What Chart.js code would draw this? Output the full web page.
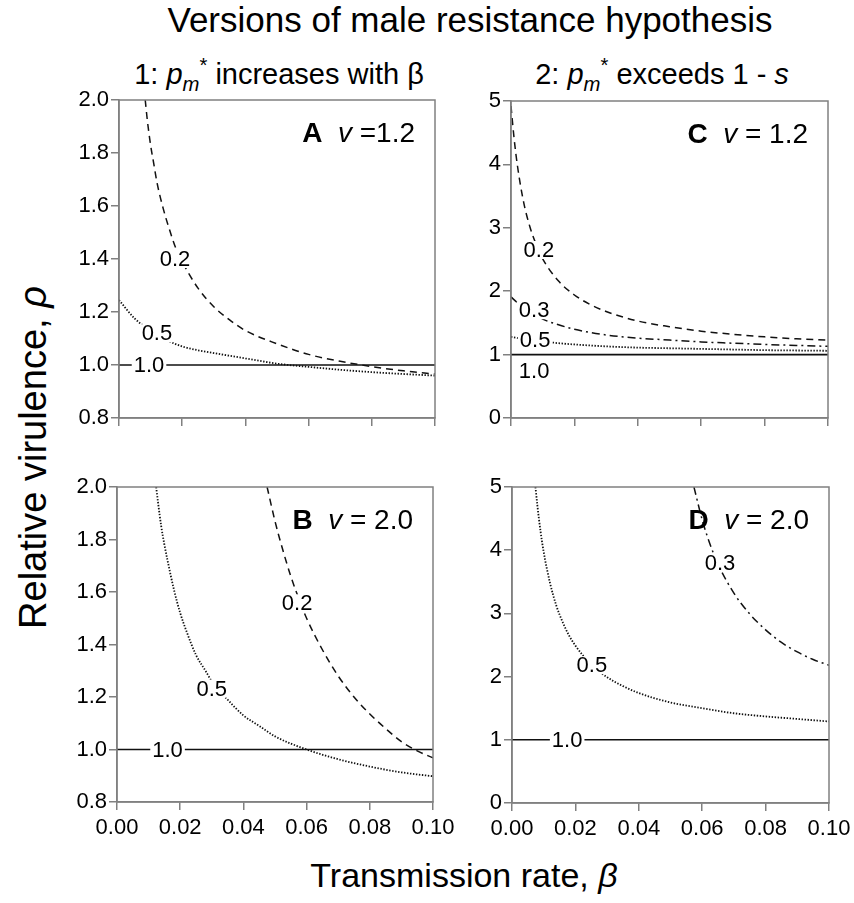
<!DOCTYPE html>
<html lang="en">
<head>
<meta charset="UTF-8">
<title>Versions of male resistance hypothesis</title>
<script src="https://cdn.jsdelivr.net/npm/chart.js"></script>
<style>
  body { margin: 0; background: #fff; font-family: "Liberation Sans", Arial, sans-serif; }
  #page { position: relative; width: 854px; height: 903px; overflow: hidden; }
  canvas { position: absolute; }
  .txt { position: absolute; white-space: nowrap; color: #000; line-height: 1; }
  .sub { font-size: 70%; position: relative; top: 0.35em; }
  .sup { font-size: 70%; position: relative; top: -0.6em; }
</style>
</head>
<body>
<div id="page">
  <div class="txt" style="left:470px; top:2px; font-size:35px; transform:translateX(-50%);">Versions of male resistance hypothesis</div>
  <div class="txt" style="left:279px; top:60px; font-size:29px; transform:translateX(-50%);">1: <i>p</i><i class="sub">m</i><span class="sup">*</span> increases with β</div>
  <div class="txt" style="left:662px; top:60px; font-size:29px; transform:translateX(-50%);">2: <i>p</i><i class="sub">m</i><span class="sup">*</span> exceeds 1 - <i>s</i></div>
  <div class="txt" style="left:464px; top:858px; font-size:34px; transform:translateX(-50%);">Transmission rate, <i>β</i></div>
  <div class="txt" style="left:-217px; top:438px; width:500px; height:39px; text-align:center; font-size:38px; transform:rotate(-90deg);">Relative virulence, <i>ρ</i></div>

  <canvas id="chartA"></canvas>
  <canvas id="chartB"></canvas>
  <canvas id="chartC"></canvas>
  <canvas id="chartD"></canvas>
</div>

<script>
// ticks
const xTicks = [0, 0.02, 0.04, 0.06, 0.08, 0.10];
const xTickLabels = ['0.00', '0.02', '0.04', '0.06', '0.08', '0.10'];
const yTicksLeft = [0.8, 1.0, 1.2, 1.4, 1.6, 1.8, 2.0];
const yTickLabelsLeft = ['0.8', '1.0', '1.2', '1.4', '1.6', '1.8', '2.0'];
const yTicksRight = [0, 1, 2, 3, 4, 5];
const yTickLabelsRight = ['0', '1', '2', '3', '4', '5'];

// panel A, v = 1.2
const betaA02 = [0.0083, 0.009, 0.010, 0.011, 0.012, 0.014, 0.016, 0.018, 0.020, 0.025, 0.030, 0.035, 0.040, 0.050, 0.060, 0.070, 0.080, 0.090, 0.100];
const rhoA02  = [2.00, 1.92, 1.83, 1.76, 1.69, 1.59, 1.51, 1.44, 1.39, 1.29, 1.22, 1.17, 1.13, 1.08, 1.04, 1.014, 0.994, 0.978, 0.966];
const betaA05 = [0, 0.005, 0.010, 0.015, 0.020, 0.030, 0.040, 0.050, 0.060, 0.070, 0.080, 0.090, 0.100];
const rhoA05  = [1.245, 1.175, 1.13, 1.095, 1.07, 1.045, 1.025, 1.005, 0.993, 0.982, 0.973, 0.966, 0.96];
const betaA10 = [0, 0.100];
const rhoA10  = [1.0, 1.0];

// panel B, v = 2.0
const betaB02 = [0.0475, 0.050, 0.052, 0.055, 0.058, 0.060, 0.065, 0.070, 0.075, 0.080, 0.085, 0.090, 0.095, 0.100];
const rhoB02  = [2.00, 1.87, 1.78, 1.66, 1.56, 1.50, 1.38, 1.28, 1.20, 1.135, 1.08, 1.03, 0.995, 0.968];
const betaB05 = [0.0124, 0.013, 0.014, 0.015, 0.016, 0.018, 0.020, 0.022, 0.025, 0.028, 0.030, 0.035, 0.040, 0.045, 0.050, 0.060, 0.070, 0.080, 0.090, 0.100];
const rhoB05  = [2.00, 1.94, 1.85, 1.78, 1.72, 1.61, 1.52, 1.45, 1.36, 1.30, 1.26, 1.19, 1.13, 1.09, 1.05, 1.00, 0.963, 0.935, 0.913, 0.898];
const betaB10 = [0, 0.100];
const rhoB10  = [1.0, 1.0];

// panel C, v = 1.2
const betaC02 = [0, 0.001, 0.002, 0.004, 0.006, 0.008, 0.010, 0.015, 0.020, 0.025, 0.030, 0.040, 0.050, 0.060, 0.070, 0.080, 0.090, 0.100];
const rhoC02  = [4.92, 4.40, 3.99, 3.40, 3.01, 2.73, 2.51, 2.16, 1.94, 1.79, 1.68, 1.53, 1.44, 1.37, 1.32, 1.28, 1.25, 1.23];
const betaC03 = [0, 0.002, 0.005, 0.010, 0.015, 0.020, 0.030, 0.040, 0.050, 0.060, 0.070, 0.080, 0.090, 0.100];
const rhoC03  = [1.91, 1.82, 1.70, 1.56, 1.47, 1.40, 1.31, 1.26, 1.23, 1.20, 1.18, 1.16, 1.145, 1.13];
const betaC05 = [0, 0.005, 0.010, 0.015, 0.020, 0.030, 0.040, 0.050, 0.060, 0.070, 0.080, 0.090, 0.100];
const rhoC05  = [1.28, 1.24, 1.21, 1.18, 1.16, 1.13, 1.11, 1.10, 1.09, 1.08, 1.07, 1.065, 1.06];
const betaC10 = [0, 0.100];
const rhoC10  = [1.0, 1.0];

// panel D, v = 2.0
const betaD05 = [0.0074, 0.008, 0.009, 0.010, 0.012, 0.014, 0.016, 0.018, 0.020, 0.025, 0.030, 0.035, 0.040, 0.050, 0.060, 0.070, 0.080, 0.090, 0.100];
const rhoD05  = [5.00, 4.71, 4.30, 3.97, 3.48, 3.12, 2.86, 2.65, 2.49, 2.19, 1.99, 1.85, 1.74, 1.59, 1.50, 1.42, 1.37, 1.33, 1.29];
const betaD03 = [0.0574, 0.060, 0.0625, 0.065, 0.070, 0.075, 0.080, 0.085, 0.090, 0.095, 0.100];
const rhoD03  = [5.00, 4.48, 4.09, 3.78, 3.32, 2.99, 2.74, 2.54, 2.39, 2.27, 2.18];
const betaD10 = [0, 0.100];
const rhoD10  = [1.0, 1.0];

// contour labels: text, beta, rho
const labelsA = [['0.2', 0.0177, 1.40], ['0.5', 0.012, 1.12], ['1.0', 0.0095, 1.0]];
const labelsB = [['0.2', 0.057, 1.557], ['0.5', 0.030, 1.232], ['1.0', 0.016, 1.0]];
const labelsC = [['0.2', 0.0088, 2.65], ['0.3', 0.0073, 1.70], ['0.5', 0.0076, 1.23], ['1.0', 0.0073, 0.74]];
const labelsD = [['0.5', 0.0252, 2.18], ['0.3', 0.0656, 3.80], ['1.0', 0.0174, 1.0]];

const FONT = '"Liberation Sans", Arial, sans-serif';
Chart.defaults.font.family = FONT;
Chart.defaults.font.size = 22;
Chart.defaults.color = '#000';

const lineStyles = {
  solid:   { borderDash: [], borderWidth: 1.6 },
  dashed:  { borderDash: [7, 5], borderWidth: 1.5 },
  dotted:  { borderDash: [1.4, 1.6], borderWidth: 1.8 },
  dashdot: { borderDash: [8, 4, 2, 4], borderWidth: 1.5 }
};

function makePanel(id, area, yTicks, yLabels, series, curveLabels, note, showX) {
  const padL = 80, padT = 20, padR = 35, padB = 45;
  const cv = document.getElementById(id);
  cv.width = area.r - area.l + padL + padR;
  cv.height = area.b - area.t + padT + padB;
  cv.style.left = (area.l - padL) + 'px';
  cv.style.top = (area.t - padT) + 'px';

  const datasets = series.map(s => Object.assign({
    data: s.x.map((b, i) => ({ x: b, y: s.y[i] })),
    borderColor: '#111',
    borderCapStyle: 'butt',
    pointRadius: 0,
    cubicInterpolationMode: 'monotone',
    fill: false
  }, lineStyles[s.style]));

  const axisCommon = {
    type: 'linear',
    grid: { drawOnChartArea: false, drawTicks: true, tickLength: 8, color: '#808080', lineWidth: 1.5 },
    border: { display: true, color: '#808080', width: 1.5 }
  };

  new Chart(cv, {
    type: 'line',
    data: { datasets },
    options: {
      responsive: false,
      animation: false,
      layout: { padding: { left: 0, top: padT, right: padR, bottom: 0 } },
      plugins: { legend: { display: false }, tooltip: { enabled: false } },
      scales: {
        x: Object.assign({}, axisCommon, {
          min: 0, max: 0.1,
          afterBuildTicks: s => { s.ticks = xTicks.map(v => ({ value: v })); },
          afterFit: s => { s.height = padB; },
          ticks: { display: showX, padding: 5, maxRotation: 0, autoSkip: false,
                   callback: (v, i) => xTickLabels[i] }
        }),
        y: Object.assign({}, axisCommon, {
          min: yTicks[0], max: yTicks[yTicks.length - 1],
          afterBuildTicks: s => { s.ticks = yTicks.map(v => ({ value: v })); },
          afterFit: s => { s.width = padL; },
          ticks: { padding: 2, autoSkip: false, callback: (v, i) => yLabels[i] }
        })
      }
    },
    plugins: [{
      id: 'decor',
      afterDatasetsDraw(chart) {
        const { ctx, chartArea: a } = chart;
        const x = chart.scales.x, y = chart.scales.y;
        ctx.save();
        // contour labels cut into the lines
        ctx.font = '22px ' + FONT;
        ctx.textAlign = 'center';
        ctx.textBaseline = 'middle';
        curveLabels.forEach(([t, bx, by]) => {
          const px = x.getPixelForValue(bx), py = y.getPixelForValue(by);
          const w = ctx.measureText(t).width;
          ctx.fillStyle = '#fff';
          ctx.fillRect(px - w / 2 - 2, py - 9, w + 4, 18);
          ctx.fillStyle = '#000';
          ctx.fillText(t, px, py + 1);
        });
        // panel note, e.g. "A  v =1.2"
        const parts = [
          ['bold 28px ' + FONT, note[0]],
          ['28px ' + FONT, '  '],
          ['italic 28px ' + FONT, 'v'],
          ['28px ' + FONT, note[1]]
        ];
        let total = 0;
        parts.forEach(p => { ctx.font = p[0]; total += ctx.measureText(p[1]).width; });
        let cx = a.right - 20 - total;
        ctx.textAlign = 'left';
        ctx.textBaseline = 'alphabetic';
        parts.forEach(p => {
          ctx.font = p[0];
          ctx.fillText(p[1], cx, a.top + 42);
          cx += ctx.measureText(p[1]).width;
        });
        // frame
        ctx.strokeStyle = '#808080';
        ctx.lineWidth = 1.5;
        ctx.strokeRect(a.left, a.top, a.right - a.left, a.bottom - a.top);
        ctx.restore();
      }
    }]
  });
}

makePanel('chartA', { l: 119, t: 100, r: 435, b: 418 }, yTicksLeft, yTickLabelsLeft, [
  { x: betaA10, y: rhoA10, style: 'solid' },
  { x: betaA05, y: rhoA05, style: 'dotted' },
  { x: betaA02, y: rhoA02, style: 'dashed' }
], labelsA, ['A', ' =1.2'], false);

makePanel('chartC', { l: 511, t: 101, r: 828, b: 418 }, yTicksRight, yTickLabelsRight, [
  { x: betaC10, y: rhoC10, style: 'solid' },
  { x: betaC05, y: rhoC05, style: 'dotted' },
  { x: betaC03, y: rhoC03, style: 'dashdot' },
  { x: betaC02, y: rhoC02, style: 'dashed' }
], labelsC, ['C', ' = 1.2'], false);

makePanel('chartB', { l: 117, t: 487, r: 433, b: 802 }, yTicksLeft, yTickLabelsLeft, [
  { x: betaB10, y: rhoB10, style: 'solid' },
  { x: betaB05, y: rhoB05, style: 'dotted' },
  { x: betaB02, y: rhoB02, style: 'dashed' }
], labelsB, ['B', ' = 2.0'], true);

makePanel('chartD', { l: 512, t: 487, r: 829, b: 803 }, yTicksRight, yTickLabelsRight, [
  { x: betaD10, y: rhoD10, style: 'solid' },
  { x: betaD05, y: rhoD05, style: 'dotted' },
  { x: betaD03, y: rhoD03, style: 'dashdot' }
], labelsD, ['D', ' = 2.0'], true);
</script>
</body>
</html>
